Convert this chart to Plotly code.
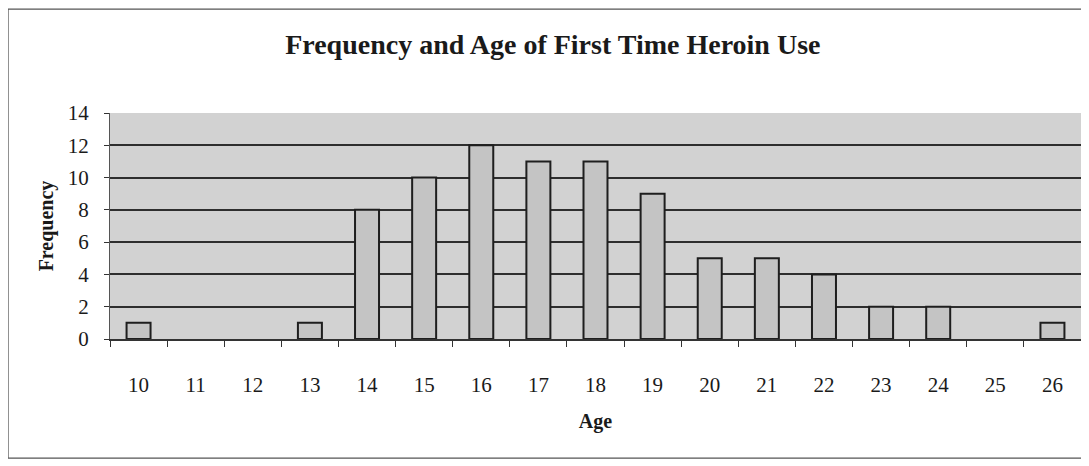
import plotly.graph_objects as go

ages = ["10", "11", "12", "13", "14", "15", "16", "17", "18", "19", "20", "21", "22", "23", "24", "25", "26"]
frequency = [1, 0, 0, 1, 8, 10, 12, 11, 11, 9, 5, 5, 4, 2, 2, 0, 1]
y_ticks = [0, 2, 4, 6, 8, 10, 12, 14]

FONT = "Liberation Serif"

# empty categories get no outline (Excel draws nothing for a zero bar)
outline_widths = [2 if v > 0 else 0 for v in frequency]

# note: the page body has an 8px margin, so the figure is sized/offset to compensate
fig = go.Figure(go.Bar(
    x=ages, y=frequency,
    marker=dict(color="#c4c4c4", line=dict(color="#1e1e1e", width=outline_widths)),
))

fig.update_layout(
    width=1081, height=458,
    margin=dict(l=102, r=8, t=105, b=127),
    paper_bgcolor="#ffffff",
    plot_bgcolor="#d2d2d2",
    bargap=0.58,
    showlegend=False,
    title=dict(text="<b>Frequency and Age of First Time Heroin Use</b>",
               x=0.504, xanchor="center", y=0.921, yanchor="middle",
               font=dict(family=FONT, size=28, color="#1a1a1a")),
    font=dict(family=FONT, color="#1a1a1a"),
    shapes=[dict(type="rect", xref="paper", yref="paper", x0=-0.105, x1=1.004, y0=-0.527, y1=1.46,
                 line=dict(color="#555555", width=1.2), fillcolor="rgba(0,0,0,0)", layer="below")],
)

fig.update_xaxes(
    type="category", tickson="boundaries", ticks="outside", ticklen=6, tickcolor="#333",
    showline=True, linecolor="#333", linewidth=1.5, mirror=False,
    showgrid=False, tickfont=dict(size=21), ticklabelstandoff=26,
    title=dict(text="<b>Age</b>", font=dict(size=20), standoff=18),
)
fig.update_yaxes(
    range=[0, 14], tickvals=y_ticks, ticks="outside", ticklen=5, tickcolor="#333",
    showgrid=True, gridcolor="#2e2e2e", gridwidth=1.5,
    showline=True, linecolor="#555", linewidth=1, mirror=True,
    zeroline=False, tickfont=dict(size=21), ticklabelstandoff=11,
    title=dict(text="<b>Frequency</b>", font=dict(size=20), standoff=8),
)

fig.write_html("out.html")
